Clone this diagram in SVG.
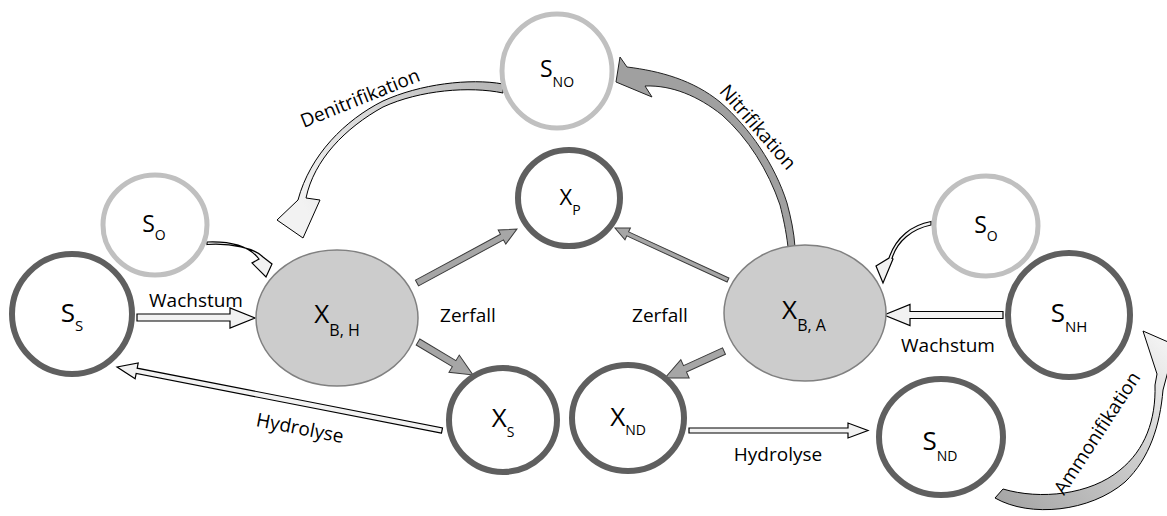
<svg xmlns="http://www.w3.org/2000/svg" width="1167" height="516" viewBox="0 0 1167 516">
<style>
.dark{fill:#fff;stroke:#5f5f5f;stroke-width:6}
.light{fill:#fff;stroke:#c0c0c0;stroke-width:5}
.bio{fill:#cccccc;stroke:#808080;stroke-width:1.5}
.lbl{font-family:"Open Sans","Liberation Sans",sans-serif;fill:#000;text-anchor:middle}
.big{font-size:26px}
.mid{font-size:23px}
.sm{font-size:22px}
.t{font-family:"Open Sans","Liberation Sans",sans-serif;font-size:19px;fill:#000;text-anchor:middle}
.hol{fill:#f2f2f2;stroke:#000;stroke-width:1.2;stroke-linejoin:miter}
.gry{fill:#a6a6a6;stroke:#3a3a3a;stroke-width:1}
</style>
<defs>
<linearGradient id="gDen" gradientUnits="userSpaceOnUse" x1="300" y1="200" x2="503" y2="88">
<stop offset="0" stop-color="#f2f2f2"/><stop offset="1" stop-color="#b5b5b5"/>
</linearGradient>
<linearGradient id="gAmm" gradientUnits="userSpaceOnUse" x1="1000" y1="500" x2="1160" y2="340">
<stop offset="0" stop-color="#a6a6a6"/><stop offset="0.6" stop-color="#d0d0d0"/><stop offset="1" stop-color="#f2f2f2"/>
</linearGradient>
</defs>

<g id="connectors">
<polygon class="hol" points="137,314 230,314 230,308 255,318 230,328 230,321 137,321"/>
<polygon class="hol" points="1003,311.5 910,311.5 910,304.5 884,315 910,325.5 910,318.5 1003,318.5"/>
<polygon class="hol" points="689,428 848,428 848,423 868,430.5 848,438 848,433 689,433"/>
<polygon class="hol" transform="translate(442,430.5) rotate(-168.94)" points="0,-2.7 311.1,-2.7 311.1,-8 331.1,0 311.1,8 311.1,2.7 0,2.7"/>
<polygon class="gry" transform="translate(417,283) rotate(-28.37)" points="0,-3.2 96.6,-3.2 96.6,-8 113.6,0 96.6,8 96.6,3.2 0,3.2"/>
<polygon class="gry" transform="translate(728,280) rotate(-155.3)" points="0,-2.2 110.4,-2.2 110.4,-6.5 124.4,0 110.4,6.5 110.4,2.2 0,2.2"/>
<polygon class="gry" transform="translate(418,342) rotate(30.96)" points="0,-3.5 42.1,-3.5 42.1,-10 64.1,0 42.1,10 42.1,3.5 0,3.5"/>
<polygon class="gry" transform="translate(724,351) rotate(155.4)" points="0,-3.5 42.9,-3.5 42.9,-10 64.9,0 42.9,10 42.9,3.5 0,3.5"/>
<path class="hol" stroke-width="1" d="M207,242 C232,241 250,247 259,259 L252,263 L266,277 L272,264 L263,257 C254,248 232,243 207,244.5 Z"/>
<path class="hol" stroke-width="1" d="M931,221.5 C912,225 896,237 889,258 L876,266 L883,283 L893,259 L892,258.5 C897,241 912,229 931,225 Z"/>
<path fill="url(#gDen)" stroke="#000" stroke-width="1" d="M503,84 C470,78 420,84 383,101 C345,120 310,155 298,200 L277,220 L303,238 L320,200 L306,198 C314,160 345,128 383,107 C420,90 470,86 503,93 Z"/>
<path fill="#a0a0a0" stroke="#222" stroke-width="1" d="M627,67 C660,71 693,80 720,102 C750,128 775,165 787,203 C791,218 794,232 795,247 L788,247 C786,230 783,217 780,205 C768,170 748,138 722,115 C698,96 672,85 645,86 L652,97 L616,82 L620,57 Z"/>
<path fill="url(#gAmm)" stroke="#000" stroke-width="1" d="M995,498 C1030,518 1090,512 1125,482 C1150,458 1160,425 1163,390 L1175,345 L1143,331 L1157,374 L1155,385 C1156,420 1145,450 1120,470 C1090,495 1040,500 1003,489 Z"/>
</g>

<g id="S_S"><circle class="dark" cx="72" cy="314" r="60"/>
<text class="lbl big" x="72" y="322">S<tspan dy="9" font-size="15">S</tspan></text></g>

<g id="S_O_left"><ellipse class="light" cx="155" cy="225" rx="52" ry="50"/>
<text class="lbl mid" x="154" y="232">S<tspan dy="8" font-size="14">O</tspan></text></g>

<g id="X_BH"><ellipse class="bio" cx="337" cy="318" rx="81" ry="68"/>
<text class="lbl big" x="337" y="323">X<tspan dy="13" font-size="16">B, H</tspan></text></g>

<g id="S_NO"><ellipse class="light" cx="557" cy="71" rx="55" ry="57"/>
<text class="lbl mid" x="557" y="77">S<tspan dy="10" font-size="14">NO</tspan></text></g>

<g id="X_P"><ellipse class="dark" cx="569" cy="198" rx="51" ry="48"/>
<text class="lbl sm" x="570" y="205">X<tspan dy="10" font-size="14">P</tspan></text></g>

<g id="X_S"><ellipse class="dark" cx="503" cy="420" rx="54" ry="52"/>
<text class="lbl big" x="503" y="427">X<tspan dy="10" font-size="14">S</tspan></text></g>

<g id="X_ND"><ellipse class="dark" cx="628" cy="418" rx="56" ry="53"/>
<text class="lbl big" x="628" y="426">X<tspan dy="9" font-size="14">ND</tspan></text></g>

<g id="X_BA"><ellipse class="bio" cx="805" cy="313" rx="81" ry="68"/>
<text class="lbl big" x="804" y="319">X<tspan dy="12" font-size="16">B, A</tspan></text></g>

<g id="S_O_right"><ellipse class="light" cx="986" cy="226" rx="52" ry="50"/>
<text class="lbl mid" x="986" y="233">S<tspan dy="8" font-size="14">O</tspan></text></g>

<g id="S_NH"><ellipse class="dark" cx="1069" cy="315" rx="61" ry="62"/>
<text class="lbl big" x="1069" y="322">S<tspan dy="10" font-size="15">NH</tspan></text></g>

<g id="S_ND"><ellipse class="dark" cx="941" cy="437" rx="62" ry="58"/>
<text class="lbl big" x="940" y="450">S<tspan dy="11" font-size="14">ND</tspan></text></g>

<g id="labels">
<text class="t" x="196" y="307">Wachstum</text>
<text class="t" x="948" y="352">Wachstum</text>
<text class="t" x="468" y="322">Zerfall</text>
<text class="t" x="660" y="322">Zerfall</text>
<text class="t" x="778" y="461">Hydrolyse</text>
<text class="t" transform="translate(300,428) rotate(11)" dy="0.35em">Hydrolyse</text>
<text class="t" transform="translate(360,98) rotate(-22)" dy="0.35em">Denitrifikation</text>
<text class="t" transform="translate(758,127) rotate(49)" dy="0.35em">Nitrifikation</text>
<text class="t" transform="translate(1097,433) rotate(-57)" dy="0.35em">Ammonifikation</text>
</g>
</svg>
